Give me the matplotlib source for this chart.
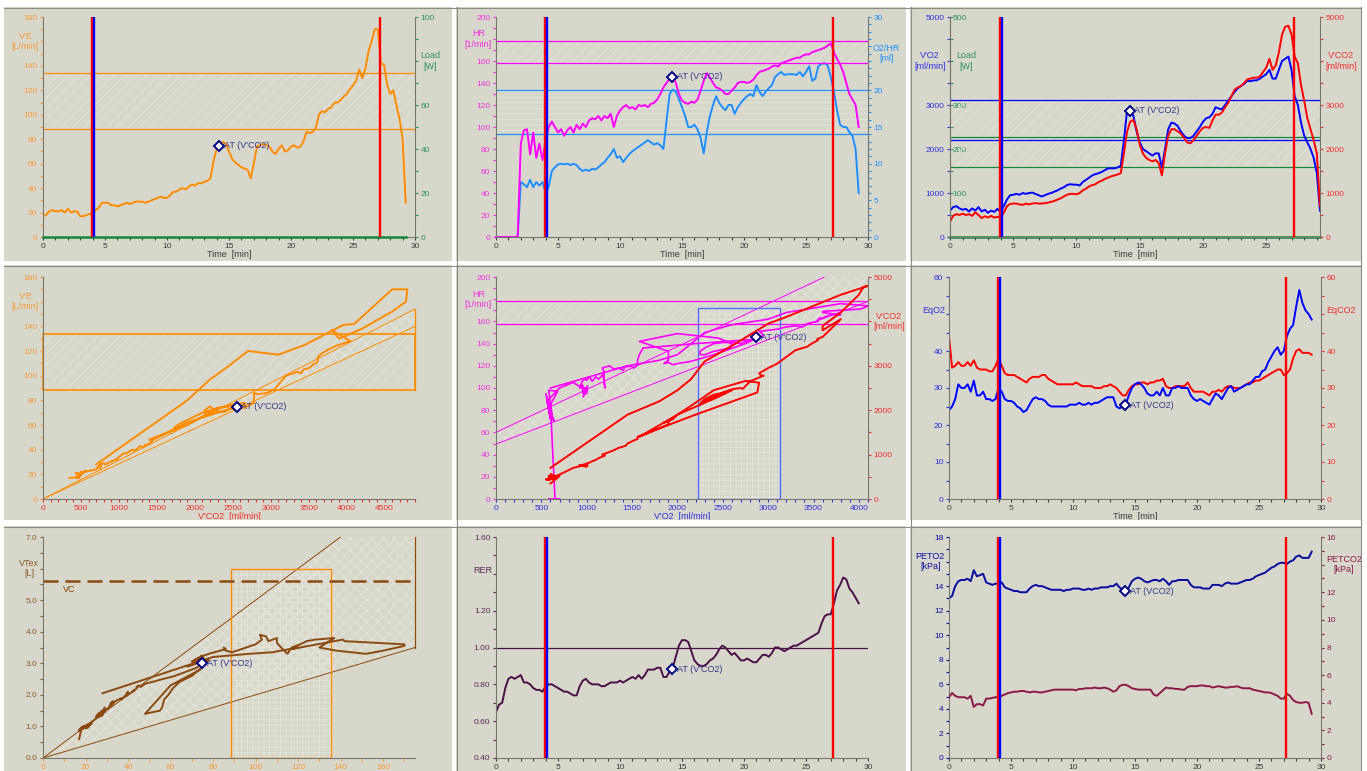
import matplotlib.pyplot as plt
import matplotlib.transforms as mtransforms
from matplotlib.patches import Rectangle, Polygon
from matplotlib.lines import Line2D
from matplotlib.ticker import MultipleLocator

plt.rcParams['font.family'] = ['Liberation Sans', 'DejaVu Sans']
plt.rcParams['hatch.linewidth'] = 0.5

# ---- data (one sample every 15 s) ----
time_min = [
    0, 0.25, 0.5, 0.75, 1, 1.25, 1.5, 1.75,
    2, 2.25, 2.5, 2.75, 3, 3.25, 3.5, 3.75,
    4, 4.25, 4.5, 4.75, 5, 5.25, 5.5, 5.75,
    6, 6.25, 6.5, 6.75, 7, 7.25, 7.5, 7.75,
    8, 8.25, 8.5, 8.75, 9, 9.25, 9.5, 9.75,
    10, 10.25, 10.5, 10.75, 11, 11.25, 11.5, 11.75,
    12, 12.25, 12.5, 12.75, 13, 13.25, 13.5, 13.75,
    14, 14.25, 14.5, 14.75, 15, 15.25, 15.5, 15.75,
    16, 16.25, 16.5, 16.75, 17, 17.25, 17.5, 17.75,
    18, 18.25, 18.5, 18.75, 19, 19.25, 19.5, 19.75,
    20, 20.25, 20.5, 20.75, 21, 21.25, 21.5, 21.75,
    22, 22.25, 22.5, 22.75, 23, 23.25, 23.5, 23.75,
    24, 24.25, 24.5, 24.75, 25, 25.25, 25.5, 25.75,
    26, 26.25, 26.5, 26.75, 27, 27.25, 27.5, 27.75,
    28, 28.25, 28.5, 28.75, 29, 29.25,
]

ve_lmin = [
    17, 18, 21, 22, 21, 21, 22, 20,
    23, 20, 21, 21, 17, 17, 18, 19,
    18, 22, 24, 28, 28, 28, 26, 26,
    25, 26, 27, 28, 27, 28, 29, 29,
    29, 28, 29, 30, 31, 32, 33, 32,
    32, 34, 37, 37, 39, 40, 39, 41,
    43, 42, 44, 44, 45, 46, 48, 62,
    72, 75, 78, 76, 70, 64, 61, 59,
    57, 56, 55, 48, 60, 74, 75, 76,
    75, 74, 70, 68, 72, 75, 70, 71,
    74, 75, 73, 74, 78, 86, 85, 86,
    89, 100, 103, 102, 105, 106, 110, 110,
    112, 115, 117, 121, 124, 128, 137, 130,
    138, 152, 160, 170, 170, 142, 141, 125,
    117, 120, 108, 97, 80, 28,
]

load_w = [0] * 118  # load stays at 0 W over the whole record

hr_bpm = [
    0, 0, 0, 0, 0, 0, 0, 0,
    85, 97, 98, 75, 95, 72, 85, 70,
    88, 100, 105, 100, 95, 98, 92, 97,
    100, 95, 102, 98, 103, 100, 106, 108,
    107, 110, 106, 110, 108, 112, 100, 110,
    115, 118, 120, 117, 118, 116, 120, 119,
    120, 118, 121, 122, 125, 130, 136, 140,
    144, 146, 140, 130, 124, 122, 121, 123,
    122, 125, 133, 142, 149, 145, 140, 136,
    135, 133, 130, 130, 133, 136, 140, 141,
    141, 140, 141, 143, 147, 150, 151, 152,
    153, 155, 156, 155, 158, 159, 160, 161,
    162, 163, 163, 165, 166, 166, 168, 169,
    170, 171, 172, 174, 176, 168, 162, 157,
    150, 140, 130, 125, 120, 100,
]

o2hr_ml = [
    0, 0, 0, 0, 0, 0, 0, 0,
    7.5, 7.2, 6.8, 7.8, 6.8, 7.5, 7.0, 7.5,
    6.0, 6.8, 9.0, 9.5, 9.9, 10.0, 9.9, 10.0,
    9.8, 10.0, 9.8, 9.3, 9.0, 9.2, 9.0, 9.3,
    9.2, 9.5, 9.9, 10.2, 10.8, 11.3, 12.0, 10.8,
    11.0, 10.2, 10.8, 11.3, 11.7, 12.0, 12.3, 12.6,
    12.9, 13.2, 12.9, 12.6, 12.8, 12.5, 12.0, 15.8,
    19.5, 20.1, 19.8, 18.8, 17.7, 16.5, 15.0, 15.0,
    15.3, 14.7, 13.5, 11.4, 14.3, 16.5, 18.0, 19.2,
    18.3, 17.7, 17.3, 18.0, 18.0, 16.8, 17.7, 18.3,
    18.8, 19.2, 19.5, 19.2, 20.7, 19.8, 19.2, 19.8,
    20.3, 20.7, 21.8, 22.2, 22.5, 22.1, 22.2, 22.2,
    22.2, 22.1, 22.5, 21.9, 22.5, 23.3, 21.3, 21.6,
    23.3, 23.6, 23.7, 23.4, 21.8, 19.8, 17.3, 15.3,
    15.0, 15.0, 14.3, 13.8, 12.0, 6.0,
]

vo2_mlmin = [
    600, 680, 700, 650, 620, 640, 580, 650,
    600, 680, 580, 620, 550, 600, 570, 640,
    560, 700, 850, 950, 960, 980, 960, 1000,
    980, 1000, 1010, 980, 950, 920, 950, 980,
    1000, 1030, 1060, 1100, 1130, 1180, 1200, 1190,
    1190, 1170, 1250, 1300, 1350, 1400, 1430, 1450,
    1480, 1520, 1560, 1560, 1560, 1580, 1620, 2200,
    2880, 2900, 2750, 2400, 2150, 2000, 1950, 1900,
    1850, 1900, 1900, 1580, 2000, 2450, 2600, 2580,
    2520, 2400, 2300, 2250, 2250, 2300, 2400, 2500,
    2620, 2700, 2720, 2800, 2950, 2920, 2900, 3000,
    3100, 3200, 3300, 3380, 3430, 3480, 3550, 3540,
    3560, 3560, 3600, 3650, 3700, 3800, 3600, 3600,
    3800, 4000, 4050, 4100, 3800, 3200, 3000, 2600,
    2300, 2150, 2000, 1800, 1450, 600,
]

vco2_mlmin = [
    350, 480, 520, 500, 530, 500, 520, 480,
    560, 500, 430, 470, 440, 480, 440, 460,
    440, 550, 700, 750, 760, 760, 740, 730,
    760, 740, 760, 770, 760, 760, 770, 780,
    800, 820, 850, 880, 920, 960, 980, 980,
    970, 1000, 1060, 1100, 1150, 1180, 1200, 1250,
    1280, 1320, 1350, 1380, 1400, 1420, 1450, 1900,
    2400, 2620, 2660, 2450, 2100, 1900, 1800, 1750,
    1720, 1750, 1680, 1400, 1900, 2300, 2450, 2450,
    2400, 2350, 2250, 2150, 2130, 2200, 2300, 2400,
    2480, 2500, 2480, 2650, 2780, 2780, 2830, 2950,
    3050, 3200, 3350, 3400, 3430, 3500, 3580, 3600,
    3620, 3620, 3650, 3750, 3850, 4050, 3800, 3900,
    4200, 4600, 4780, 4800, 4600, 4100, 3950, 3450,
    3100, 2700, 2450, 2200, 1900, 700,
]

eqo2 = [
    24, 25, 27, 31, 30, 30, 31, 29,
    32, 28, 28, 29, 27, 27, 26.5, 27,
    30, 29, 27, 26.5, 26.5, 26, 25, 24.5,
    23.5, 24, 25.5, 27, 27.5, 27, 27, 26.5,
    25.5, 25, 25, 25, 25, 25, 25, 25.5,
    25.5, 25.5, 26, 25.5, 25.5, 26, 25.5, 26,
    26, 26.5, 27, 27.5, 27.5, 27.5, 25, 24.5,
    25, 25.5, 28, 30, 31, 31.5, 31, 30,
    28.5, 28, 28, 29, 28, 30, 28, 28,
    30, 30, 30.5, 30, 30, 30, 28, 27,
    26.5, 27, 26.5, 26, 25.5, 27, 28.5, 28,
    27, 28.5, 30, 30.5, 29, 29.5, 30, 30.5,
    31, 31, 32, 33, 33, 34.5, 35, 37,
    38.5, 40, 41, 39, 40, 44, 46, 47,
    52, 56.5, 53, 51, 50, 48.5,
]

eqco2 = [
    44, 35.5, 36, 37, 36, 36, 37, 36,
    37.5, 35.5, 35, 35, 35, 34.5, 34.5, 36,
    38, 36, 34, 33.5, 33.5, 33.5, 33, 32.5,
    32, 31.5, 32.5, 33, 33, 33, 33.5, 33.5,
    32.5, 32, 31.5, 31, 31, 31, 31, 31,
    31, 31.5, 31, 30.5, 30.5, 30.5, 30.5, 30,
    30, 30, 30.5, 30.5, 31, 30.5, 30, 29,
    28, 28, 29.5, 30.5, 31, 31, 31.5, 31.5,
    31, 31.5, 31.5, 32, 32, 32.5, 30.5, 30,
    30, 30.5, 30.5, 30.5, 30.5, 31.5, 30, 29,
    29, 29, 29, 28.5, 28, 29, 29, 29.5,
    29, 30, 30.5, 30.5, 30, 30, 30, 30.5,
    31, 31.5, 31.5, 32, 32, 32.5, 33, 33.5,
    34, 34.5, 35, 35, 33.5, 34, 35, 38,
    40, 40.5, 39.5, 39.5, 39.5, 39,
]

vt_l = [
    0.6, 0.9, 1.0, 1.05, 1.0, 0.95, 1.05, 1.0,
    1.1, 0.95, 1.0, 1.05, 0.85, 0.9, 0.95, 1.0,
    0.95, 1.1, 1.2, 1.4, 1.45, 1.35, 1.3, 1.4,
    1.3, 1.4, 1.45, 1.5, 1.4, 1.5, 1.55, 1.45,
    1.6, 1.4, 1.5, 1.55, 1.6, 1.75, 1.8, 1.7,
    1.65, 1.8, 1.9, 1.85, 2.0, 2.1, 1.95, 2.05,
    2.15, 2.1, 2.2, 2.25, 2.3, 2.25, 2.35, 2.6,
    2.85, 3.0, 3.1, 2.95, 2.6, 2.4, 2.2, 2.0,
    1.85, 1.6, 1.5, 1.4, 2.3, 2.8, 3.0, 3.1,
    3.2, 3.05, 2.95, 2.9, 3.0, 3.15, 3.05, 3.1,
    3.2, 3.25, 3.15, 3.2, 3.3, 3.45, 3.5, 3.4,
    3.35, 3.6, 3.75, 3.9, 3.85, 3.7, 3.8, 3.65,
    3.5, 3.3, 3.5, 3.6, 3.7, 3.75, 3.8, 3.5,
    3.4, 3.3, 3.4, 3.55, 3.6, 3.7, 3.75, 3.55,
    3.45, 3.5, 3.35, 3.3, 3.2, 2.05,
]

rer = [
    0.65, 0.69, 0.70, 0.78, 0.83, 0.84, 0.83, 0.84,
    0.85, 0.81, 0.81, 0.80, 0.78, 0.77, 0.77, 0.76,
    0.79, 0.80, 0.80, 0.79, 0.78, 0.77, 0.76, 0.76,
    0.75, 0.74, 0.74, 0.79, 0.82, 0.83, 0.81, 0.80,
    0.80, 0.80, 0.79, 0.79, 0.80, 0.81, 0.81, 0.81,
    0.82, 0.81, 0.82, 0.83, 0.84, 0.83, 0.85, 0.83,
    0.85, 0.88, 0.88, 0.88, 0.89, 0.89, 0.84, 0.84,
    0.87, 0.89, 0.95, 1.01, 1.04, 1.04, 1.03, 0.98,
    0.93, 0.91, 0.90, 0.90, 0.91, 0.93, 0.94, 0.96,
    0.99, 1.01, 1.00, 0.98, 0.96, 0.97, 0.95, 0.93,
    0.93, 0.94, 0.93, 0.92, 0.92, 0.94, 0.96, 0.96,
    0.95, 0.97, 1.00, 1.00, 0.99, 0.98, 0.99, 1.00,
    1.01, 1.01, 1.02, 1.03, 1.04, 1.05, 1.06, 1.07,
    1.08, 1.13, 1.17, 1.18, 1.18, 1.24, 1.31, 1.34,
    1.38, 1.37, 1.32, 1.30, 1.27, 1.24,
]

peto2_kpa = [
    13.0, 13.2, 14.0, 14.4, 14.5, 14.5, 14.6, 14.4,
    15.3, 14.8, 14.9, 15.0, 14.3, 14.2, 14.1, 14.2,
    14.2, 14.3, 13.9, 13.8, 13.7, 13.6, 13.6, 13.5,
    13.5, 13.5, 13.8, 14.0, 14.1, 14.0, 14.0, 13.9,
    13.8, 13.7, 13.7, 13.7, 13.7, 13.6, 13.7, 13.7,
    13.8, 13.8, 13.8, 13.7, 13.7, 13.8, 13.7, 13.8,
    13.8, 13.9, 13.9, 13.9, 14.0, 14.0, 14.2, 13.9,
    13.7, 13.6, 13.9, 14.4, 14.6, 14.7, 14.6, 14.4,
    14.3, 14.4, 14.5, 14.5, 14.4, 14.6, 14.4, 14.1,
    14.4, 14.4, 14.5, 14.5, 14.5, 14.5, 14.1, 13.9,
    13.9, 13.9, 13.8, 13.8, 13.8, 14.1, 14.1, 14.1,
    14.0, 14.2, 14.3, 14.2, 14.2, 14.2, 14.3, 14.4,
    14.5, 14.5, 14.6, 14.8, 14.9, 15.0, 15.1, 15.3,
    15.5, 15.6, 15.8, 15.9, 15.9, 15.8, 16.0, 16.1,
    16.4, 16.5, 16.3, 16.3, 16.3, 16.8,
]

petco2_kpa = [
    4.4, 4.7, 4.5, 4.4, 4.4, 4.4, 4.3, 4.5,
    3.7, 3.9, 3.9, 3.8, 4.3, 4.3, 4.35, 4.4,
    4.4, 4.5, 4.6, 4.7, 4.75, 4.8, 4.8, 4.85,
    4.85, 4.8, 4.75, 4.8, 4.8, 4.75, 4.75, 4.8,
    4.85, 4.9, 4.95, 4.95, 4.95, 4.95, 4.95, 4.95,
    4.95, 4.9, 5.0, 5.0, 5.05, 5.05, 5.05, 5.1,
    5.05, 5.05, 5.1, 5.05, 4.95, 4.8, 4.9, 5.2,
    5.3, 5.3, 5.2, 5.05, 5.0, 4.95, 4.95, 4.95,
    4.95, 4.95, 4.6, 4.5, 4.7, 4.9, 5.1, 5.05,
    5.05, 5.0, 5.0, 4.95, 4.95, 5.15, 5.2, 5.2,
    5.2, 5.25, 5.25, 5.2, 5.2, 5.1, 5.15, 5.2,
    5.15, 5.1, 5.1, 5.15, 5.15, 5.2, 5.1, 5.05,
    5.05, 5.05, 4.95, 4.9, 4.85, 4.8, 4.75, 4.75,
    4.7, 4.6, 4.5, 4.3, 4.3, 4.65, 4.5, 4.2,
    4.05, 4.0, 4.0, 4.05, 4.0, 3.2,
]

# phase markers (start of load: red/blue, end of exercise: red)
marks_min = [3.97, 4.14, 27.17]

# anaerobic threshold
at_time = 14.2
at_ve = 74.7
at_hr = 145.5
at_vo2 = 2870
at_vco2 = 2550
at_eqo2 = 25.4
at_vt = 3.0
at_rer = 0.883
at_peto2 = 13.6

# reference / predicted ranges
ve_band = [88, 134]
hr_band = [158, 178]
o2hr_band = [14.0, 20.0]
vo2_band = [2200, 3120]
load_band = [160, 227]
ve_vco2_end = 4900
ve_vco2_slopes = [154, 140]            # VE at the right end of the two slope lines
hr_vo2_upper = [[0, 3620], [60, 200]]
hr_vo2_lower = [[0, 4100], [49.5, 178]]
vo2_box = [2225, 3135, 172]             # VO2 from, VO2 to, HR top
vt_upper = [[0, 140], [0, 7.0]]
vt_lower = [[0, 175], [0, 3.5]]
ve_box = [88.5, 135.5, 6.0]
vc_l = 5.6
rer_ref = 1.0

# ---- style ----
BG = '#d8d7cb'
SPINE = '#77776b'
DARK = '#3c3c3c'
ORANGE = '#ff8c00'
ORANGE_T = '#f59a3a'
MAGENTA = '#ff00ff'
MAG_T = '#f030e0'
DODGER = '#1e8fff'
BLUE = '#0000ff'
BLUE_T = '#3030e0'
RED = '#ff0000'
RED_T = '#f03030'
GREEN = '#128a3c'
GREEN_T = '#2a9060'
PURPLE = '#4a1048'
PURPLE_T = '#5a2a58'
NAVY2 = '#0a0aa0'
MAROON = '#8c1848'
BROWN = '#8b4a10'
BROWN_T = '#8b5a2b'
NAVY = '#000080'
AT_TXT = '#38388c'
HATCH_C = '#e9e8e0'
BOX_BLUE = '#5070ff'
FS = 6.0
FL = 6.5

W, H = 1367, 771
fig = plt.figure(figsize=(W / 100, H / 100), dpi=100, facecolor=BG)


def add_ax(left, top, right, bottom):
    ax = fig.add_axes([left / W, 1 - bottom / H, (right - left) / W, (bottom - top) / H])
    ax.set_facecolor('none')
    for s in ('top', 'right'):
        ax.spines[s].set_visible(False)
    for s in ('left', 'bottom'):
        ax.spines[s].set_color(SPINE)
    ax.tick_params(which='both', direction='out', length=2.5, width=0.8, labelsize=FS, pad=1.5)
    return ax


def right_twin(ax, below=False):
    tw = ax.twinx()
    for s in ('top', 'left', 'bottom'):
        tw.spines[s].set_visible(False)
    tw.spines['right'].set_color(SPINE)
    tw.tick_params(which='both', direction='out', length=2.5, width=0.8, labelsize=FS, pad=1.5)
    if below:
        tw.set_zorder(ax.get_zorder() - 1)
        ax.patch.set_visible(False)
    return tw


def set_ticks(axis, major, minor, color, hide=None, fmt='{:g}'):
    axis.set_ticks(major)
    axis.set_ticklabels(['' if hide is not None and abs(v - hide) < 1e-9 else fmt.format(v)
                         for v in major])
    axis.set_minor_locator(MultipleLocator(minor))
    axis.set_tick_params(which='both', colors=color)


def side_label(ax, text, y, color, side='left', inside=False):
    if side == 'left':
        xf, dx, ha = 0, (-4 if not inside else 6), ('right' if not inside else 'left')
    else:
        xf, dx, ha = 1, 5, 'left'
    tr = (mtransforms.blended_transform_factory(ax.transAxes, ax.transData)
          + mtransforms.ScaledTranslation(dx / 100, 0, fig.dpi_scale_trans))
    ax.text(xf, y, text, transform=tr, ha=ha, va='center', ma='center',
            color=color, fontsize=FL)


def time_marks(ax):
    ax.axvline(marks_min[0], color=RED, lw=1.7, zorder=4)
    ax.axvline(marks_min[1], color=BLUE, lw=1.7, zorder=4)
    ax.axvline(marks_min[2], color=RED, lw=1.7, zorder=4)


def at_mark(ax, x, y, label="AT (V'CO2)"):
    ax.plot([x], [y], ls='none', marker='D', ms=5.5, mfc='white', mec=NAVY, mew=1.4, zorder=6)
    ax.annotate(label, (x, y), xytext=(3.5, 0), textcoords='offset points',
                ha='left', va='center', fontsize=FL, color=AT_TXT, zorder=6)


def hatch_span(ax, y0, y1, hatch):
    ax.axhspan(y0, y1, facecolor='none', edgecolor=HATCH_C, hatch=hatch, lw=0, zorder=0.5)


def hatch_poly(ax, pts, hatch):
    ax.add_patch(Polygon(pts, closed=True, facecolor='none', edgecolor=HATCH_C,
                         hatch=hatch, lw=0, zorder=0.5))


time_major = [0, 5, 10, 15, 20, 25, 30]

# ---- 1: VE / Load over time ----
ax1 = add_ax(43, 17, 415, 237)
ax1.set_xlim(0, 30)
ax1.set_ylim(0, 180)
hatch_span(ax1, ve_band[0], ve_band[1], '///')
for v in ve_band:
    ax1.axhline(v, color=ORANGE, lw=0.9, zorder=1)
ax1.plot(time_min, ve_lmin, color=ORANGE, lw=1.4, zorder=2)
set_ticks(ax1.xaxis, time_major, 1, DARK)
set_ticks(ax1.yaxis, list(range(0, 181, 20)), 10, ORANGE_T, hide=160)
ax1.set_xlabel('Time  [min]', fontsize=FL, color=DARK, labelpad=0)
side_label(ax1, "V'E\n[L/min]", 160, ORANGE_T)
at_mark(ax1, at_time, at_ve)
tw1 = right_twin(ax1)
tw1.set_ylim(0, 100)
tw1.plot(time_min, load_w, color=GREEN, lw=1.8, clip_on=False)
set_ticks(tw1.yaxis, list(range(0, 101, 20)), 10, GREEN_T, hide=80)
side_label(tw1, 'Load\n[W]', 80, GREEN_T, side='right')
time_marks(tw1)

# ---- 2: HR / O2-pulse over time ----
ax2 = add_ax(496, 17, 868, 237)
ax2.set_xlim(0, 30)
ax2.set_ylim(0, 200)
tw2 = right_twin(ax2, below=True)
tw2.set_ylim(0, 30)
hatch_span(tw2, o2hr_band[0], o2hr_band[1], '---')
for v in o2hr_band:
    tw2.axhline(v, color=DODGER, lw=0.9, zorder=1)
tw2.plot(time_min, o2hr_ml, color=DODGER, lw=1.4, zorder=2, clip_on=False)
set_ticks(tw2.yaxis, [0, 5, 10, 15, 20, 25, 30], 1, DODGER, hide=25)
side_label(tw2, 'O2/HR\n[ml]', 25, DODGER, side='right')
hatch_span(ax2, hr_band[0], hr_band[1], '///')
for v in hr_band:
    ax2.axhline(v, color=MAGENTA, lw=0.9, zorder=1)
ax2.plot(time_min, hr_bpm, color=MAGENTA, lw=1.4, zorder=2, clip_on=False)
set_ticks(ax2.xaxis, time_major, 1, DARK)
set_ticks(ax2.yaxis, list(range(0, 201, 20)), 10, MAG_T, hide=180)
ax2.set_xlabel('Time  [min]', fontsize=FL, color=DARK, labelpad=0)
side_label(ax2, 'HR\n[1/min]', 180, MAG_T)
time_marks(ax2)
at_mark(ax2, at_time, at_hr)

# ---- 3: VO2 / VCO2 / Load over time ----
ax3 = add_ax(950, 17, 1320, 237)
ax3.set_xlim(0, 29.25)
ax3.set_ylim(0, 5000)
hatch_span(ax3, vo2_band[0], vo2_band[1], '///')
hatch_span(ax3, load_band[0] * 10, load_band[1] * 10, '///')
for v in vo2_band:
    ax3.axhline(v, color=BLUE, lw=0.9, zorder=1)
for v in load_band:
    ax3.axhline(v * 10, color=GREEN, lw=0.9, zorder=1)
ax3.plot(time_min, [v * 10 for v in load_w], color=GREEN, lw=1.8, clip_on=False)
ax3.plot(time_min, vo2_mlmin, color=BLUE, lw=1.4, zorder=2)
ax3.plot(time_min, vco2_mlmin, color=RED, lw=1.4, zorder=2)
set_ticks(ax3.xaxis, [0, 5, 10, 15, 20, 25], 1, DARK)
set_ticks(ax3.yaxis, list(range(0, 5001, 1000)), 500, BLUE_T, hide=4000)
ax3.set_xlabel('Time  [min]', fontsize=FL, color=DARK, labelpad=0)
side_label(ax3, "V'O2\n[ml/min]", 4000, BLUE_T)
side_label(ax3, 'Load\n[W]', 4000, GREEN_T, inside=True)
sec3 = ax3.secondary_yaxis('left', functions=(lambda v: v / 10, lambda v: v * 10))
sec3.set_yticks([0, 100, 200, 300, 400, 500])
sec3.set_yticklabels(['', '100', '200', '300', '', '500'])
sec3.yaxis.set_minor_locator(MultipleLocator(50))
sec3.tick_params(which='both', direction='in', length=2.5, width=0.8, labelsize=FS,
                 pad=-12, colors=GREEN_T)
sec3.spines['left'].set_color(SPINE)
tw3 = right_twin(ax3)
tw3.set_ylim(0, 5000)
set_ticks(tw3.yaxis, list(range(0, 5001, 1000)), 500, RED_T, hide=4000)
side_label(tw3, "V'CO2\n[ml/min]", 4000, RED_T, side='right')
time_marks(ax3)
at_mark(ax3, at_time, at_vo2)

# ---- 4: VE vs VCO2 ----
ax4 = add_ax(43, 277, 415, 499)
ax4.set_xlim(0, ve_vco2_end)
ax4.set_ylim(0, 180)
ax4.add_patch(Rectangle((0, ve_band[0]), ve_vco2_end, ve_band[1] - ve_band[0], facecolor='none',
                        edgecolor=HATCH_C, hatch='///', lw=0, zorder=0.5))
hatch_poly(ax4, [(0, 0), (ve_vco2_end, ve_vco2_slopes[0]), (ve_vco2_end, ve_vco2_slopes[1])], 'xxx')
ax4.add_patch(Rectangle((0, ve_band[0]), ve_vco2_end, ve_band[1] - ve_band[0], fill=False,
                        edgecolor=ORANGE, lw=1.2, zorder=1, clip_on=False))
for v in ve_vco2_slopes:
    ax4.plot([0, ve_vco2_end], [0, v], color=ORANGE, lw=0.7, zorder=1)
ax4.plot([ve_vco2_end, ve_vco2_end], [ve_band[0], ve_vco2_slopes[0]], color=ORANGE, lw=1.0,
         zorder=1, clip_on=False)
ax4.plot(vco2_mlmin, ve_lmin, color=ORANGE, lw=1.4, zorder=2)
set_ticks(ax4.xaxis, list(range(0, 4501, 500)), 100, RED_T)
set_ticks(ax4.yaxis, list(range(0, 181, 20)), 10, ORANGE_T, hide=160)
ax4.set_xlabel("V'CO2  [ml/min]", fontsize=FL, color=RED_T, labelpad=0)
side_label(ax4, "V'E\n[L/min]", 160, ORANGE_T)
at_mark(ax4, at_vco2, at_ve)

# ---- 5: HR and VCO2 vs VO2 ----
ax5 = add_ax(496, 277, 868, 499)
ax5.set_xlim(0, 4100)
ax5.set_ylim(0, 200)
hatch_span(ax5, hr_band[0], hr_band[1], '///')
for v in hr_band:
    ax5.axhline(v, color=MAGENTA, lw=0.9, zorder=1)
hatch_poly(ax5, [(hr_vo2_upper[0][0], hr_vo2_upper[1][0]), (hr_vo2_upper[0][1], hr_vo2_upper[1][1]),
                 (4100, 200), (hr_vo2_lower[0][1], hr_vo2_lower[1][1]),
                 (hr_vo2_lower[0][0], hr_vo2_lower[1][0])], 'xxx')
ax5.plot(hr_vo2_upper[0], hr_vo2_upper[1], color=MAGENTA, lw=0.7, zorder=1)
ax5.plot(hr_vo2_lower[0], hr_vo2_lower[1], color=MAGENTA, lw=0.7, zorder=1)
ax5.add_patch(Rectangle((vo2_box[0], 0), vo2_box[1] - vo2_box[0], vo2_box[2], facecolor='none',
                        edgecolor=HATCH_C, hatch='+++', lw=0, zorder=0.6))
ax5.add_patch(Rectangle((vo2_box[0], 0), vo2_box[1] - vo2_box[0], vo2_box[2], fill=False,
                        edgecolor=BOX_BLUE, lw=1.0, zorder=1))
ax5.plot(vo2_mlmin, hr_bpm, color=MAGENTA, lw=1.2, zorder=2, clip_on=False)
set_ticks(ax5.xaxis, list(range(0, 4001, 500)), 100, BLUE_T)
set_ticks(ax5.yaxis, list(range(0, 201, 20)), 10, MAG_T, hide=180)
ax5.set_xlabel("V'O2  [ml/min]", fontsize=FL, color=BLUE_T, labelpad=0)
side_label(ax5, 'HR\n[1/min]', 180, MAG_T)
at_mark(ax5, at_vo2, at_hr)
tw5 = right_twin(ax5)
tw5.set_ylim(0, 5000)
tw5.plot(vo2_mlmin, vco2_mlmin, color=RED, lw=1.4, zorder=2)
set_ticks(tw5.yaxis, list(range(0, 5001, 1000)), 500, RED_T, hide=4000)
side_label(tw5, "V'CO2\n[ml/min]", 4000, RED_T, side='right')

# ---- 6: ventilatory equivalents ----
ax6 = add_ax(949, 277, 1321, 499)
ax6.set_xlim(0, 30)
ax6.set_ylim(0, 60)
ax6.plot(time_min, eqco2, color=RED, lw=1.4, zorder=2)
ax6.plot(time_min, eqo2, color=BLUE, lw=1.4, zorder=2)
set_ticks(ax6.xaxis, time_major, 1, DARK)
set_ticks(ax6.yaxis, list(range(0, 61, 10)), 5, BLUE_T, hide=50)
ax6.set_xlabel('Time  [min]', fontsize=FL, color=DARK, labelpad=0)
side_label(ax6, 'EqO2', 51, BLUE_T)
tw6 = right_twin(ax6)
tw6.set_ylim(0, 60)
set_ticks(tw6.yaxis, list(range(0, 61, 10)), 5, RED_T, hide=50)
side_label(tw6, 'EqCO2', 51, RED_T, side='right')
time_marks(ax6)
at_mark(ax6, at_time, at_eqo2, 'AT (VCO2)')

# ---- 7: VT vs VE ----
ax7 = add_ax(43, 537, 415, 758)
ax7.set_xlim(0, 175)
ax7.set_ylim(0, 7)
hatch_poly(ax7, [(0, 0), (vt_upper[0][1], vt_upper[1][1]), (vt_lower[0][1], 7.0),
                 (vt_lower[0][1], vt_lower[1][1])], 'xxx')
ax7.plot(vt_upper[0], vt_upper[1], color=BROWN, lw=0.7, zorder=1)
ax7.plot(vt_lower[0], vt_lower[1], color=BROWN, lw=0.7, zorder=1)
ax7.plot([vt_lower[0][1], vt_lower[0][1]], [vt_lower[1][1], 7.0], color=BROWN, lw=0.9,
         zorder=1, clip_on=False)
ax7.add_patch(Rectangle((ve_box[0], 0), ve_box[1] - ve_box[0], ve_box[2], facecolor='none',
                        edgecolor=HATCH_C, hatch='+++', lw=0, zorder=0.6))
ax7.add_patch(Rectangle((ve_box[0], 0), ve_box[1] - ve_box[0], ve_box[2], fill=False,
                        edgecolor=ORANGE, lw=1.0, zorder=1))
ax7.axhline(vc_l, color=BROWN, lw=1.8, dashes=(6, 2.8), zorder=1)
ax7.text(9.5, vc_l - 0.25, 'VC', color=BROWN, fontsize=FL, va='center', ha='left')
ax7.plot(ve_lmin, vt_l, color=BROWN, lw=1.4, zorder=2)
set_ticks(ax7.xaxis, list(range(0, 161, 20)), 10, ORANGE_T)
set_ticks(ax7.yaxis, [0, 1, 2, 3, 4, 5, 6, 7], 0.5, BROWN_T, hide=6, fmt='{:.1f}')
side_label(ax7, 'VTex\n[L]', 6.0, BROWN_T)
at_mark(ax7, at_ve, at_vt)

# ---- 8: RER ----
ax8 = add_ax(496, 537, 868, 758)
ax8.set_xlim(0, 30)
ax8.set_ylim(0.4, 1.6)
ax8.axhline(rer_ref, color=PURPLE, lw=0.9, zorder=1)
ax8.plot(time_min, rer, color=PURPLE, lw=1.4, zorder=2)
set_ticks(ax8.xaxis, time_major, 1, DARK)
set_ticks(ax8.yaxis, [0.4, 0.6, 0.8, 1.0, 1.2, 1.4, 1.6], 0.1, PURPLE_T, hide=1.4, fmt='{:.2f}')
side_label(ax8, 'RER', 1.42, PURPLE_T)
time_marks(ax8)
at_mark(ax8, at_time, at_rer)

# ---- 9: end-tidal pressures ----
ax9 = add_ax(949, 537, 1321, 758)
ax9.set_xlim(0, 30)
ax9.set_ylim(0, 18)
ax9.plot(time_min, peto2_kpa, color=NAVY2, lw=1.4, zorder=2)
set_ticks(ax9.xaxis, time_major, 1, DARK)
set_ticks(ax9.yaxis, list(range(0, 19, 2)), 1, NAVY2, hide=16)
side_label(ax9, 'PETO2\n[kPa]', 16, NAVY2)
at_mark(ax9, at_time, at_peto2, 'AT (VCO2)')
tw9 = right_twin(ax9)
tw9.set_ylim(0, 16)
tw9.plot(time_min, petco2_kpa, color=MAROON, lw=1.4, zorder=2)
set_ticks(tw9.yaxis, list(range(0, 17, 2)), 1, MAROON, hide=14)
side_label(tw9, 'PETCO2\n[kPa]', 14, MAROON, side='right')
time_marks(tw9)

# ---- panel frames ----
for x, y, w, h in [(0, 0, W, 7), (0, 0, 4, H), (1361, 0, 6, H), (452, 0, 4, H),
                   (906, 0, 4, H), (0, 261, W, 4), (0, 520, W, 6)]:
    fig.patches.append(Rectangle((x / W, 1 - (y + h) / H), w / W, h / H, transform=fig.transFigure,
                                 facecolor='white', edgecolor='none', zorder=10))
for y in (7.5, 265.5, 526.5):
    fig.lines.append(Line2D([4 / W, 1361 / W], [1 - y / H, 1 - y / H], transform=fig.transFigure,
                            color='#8c8c84', lw=0.8, zorder=11))
for x in (456.5, 910.5, 1361):
    fig.lines.append(Line2D([x / W, x / W], [0, 1 - 7 / H], transform=fig.transFigure,
                            color='#8c8c84', lw=0.8, zorder=11))

fig.savefig('out.png', dpi=100, facecolor=BG)
